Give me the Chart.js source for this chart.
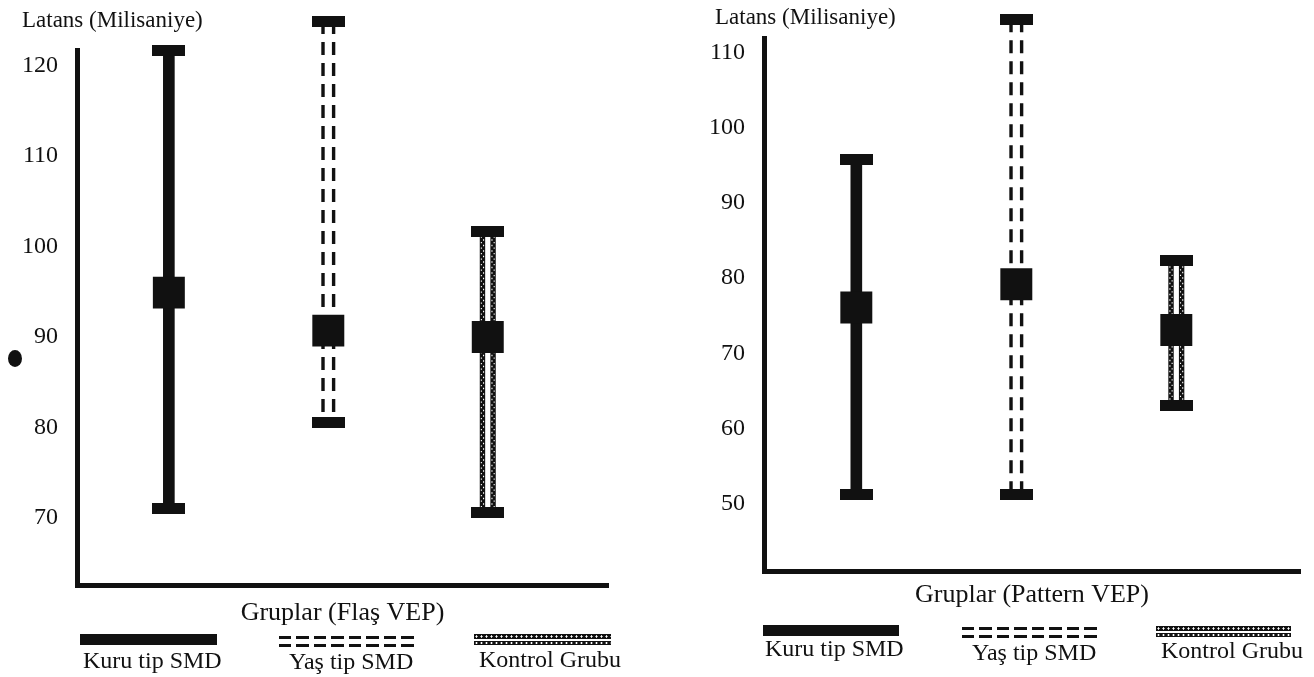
<!DOCTYPE html>
<html lang="tr">
<head>
<meta charset="utf-8">
<title>Latans - Flaş ve Pattern VEP</title>
<script src="https://cdn.jsdelivr.net/npm/chart.js@4.4.0/dist/chart.umd.min.js"></script>
<style>
  html, body { margin: 0; padding: 0; background: #fff; }
  body { width: 1314px; height: 677px; position: relative; overflow: hidden;
         font-family: "Liberation Serif", "Times New Roman", serif; color: #111; }
  canvas { position: absolute; top: 0; }
  .txt { position: absolute; white-space: nowrap; line-height: 1; }
  .ylab { font-size: 23px; }
  .leg { font-size: 24px; }
  .sw { position: absolute; }
  .solid { background: #111; }
  .row { position: absolute; left: 0; right: 0; }
  .dash { height: 3px; background: repeating-linear-gradient(90deg, #111 0 12.5px, transparent 12.5px 17.5px); }
  .chain { height: 4.5px; background-color: #111;
           background-image: radial-gradient(circle, #fff 0.8px, transparent 1.3px);
           background-size: 5px 4.5px; }
  .dot { position: absolute; left: 8px; top: 350px; width: 14px; height: 17px; border-radius: 50%; background: #111; }
</style>
</head>
<body>
<canvas id="flash" width="650" height="677" style="left:0"></canvas>
<canvas id="pattern" width="627" height="677" style="left:687px"></canvas>
<div class="dot"></div>
<script>
// groups (x positions 1..3 on a linear scale)
const groups = ["Kuru tip SMD", "Yaş tip SMD", "Kontrol Grubu"];
const groupPos = [1, 2, 3];

// Flaş VEP latency (ms): mean, lower and upper whisker
const flashMean = [94.9, 90.7, 90.0];
const flashLow = [71.1, 80.6, 70.6];
const flashHigh = [121.7, 124.9, 101.7];
const flashTicks = [70, 80, 90, 100, 110, 120];

// Pattern VEP latency (ms)
const patternMean = [76.1, 79.2, 73.1];
const patternLow = [51.3, 51.3, 63.1];
const patternHigh = [95.8, 114.4, 82.3];
const patternTicks = [50, 60, 70, 80, 90, 100, 110];

const strandStyles = ["solid", "dashed", "chain"];
const ink = "#111";
const serif = "Liberation Serif";

// end cap used as point image
const capImg = document.createElement("canvas");
capImg.width = 33;
capImg.height = 11;
const capCtx = capImg.getContext("2d");
capCtx.fillStyle = ink;
capCtx.fillRect(0, 0, 33, 11);

// draws the dashed / chain whiskers inside the range bars
const strandPlugin = {
  id: "strands",
  afterDatasetDraw(chart, args) {
    if (args.meta.type !== "bar") return;
    const ctx = chart.ctx;
    args.meta.data.forEach((bar, i) => {
      const style = strandStyles[i];
      const top = Math.min(bar.y, bar.base);
      const bottom = Math.max(bar.y, bar.base);
      ctx.save();
      if (style === "dashed") {
        ctx.strokeStyle = ink;
        ctx.lineWidth = 3.4;
        ctx.setLineDash([13, 8]);
        [-5.3, 5.3].forEach((dx) => {
          ctx.beginPath();
          ctx.moveTo(bar.x + dx, top);
          ctx.lineTo(bar.x + dx, bottom);
          ctx.stroke();
        });
      } else if (style === "chain") {
        [-5.3, 5.3].forEach((dx, k) => {
          ctx.setLineDash([]);
          ctx.strokeStyle = ink;
          ctx.lineWidth = 5.4;
          ctx.beginPath();
          ctx.moveTo(bar.x + dx, top);
          ctx.lineTo(bar.x + dx, bottom);
          ctx.stroke();
          ctx.strokeStyle = "#fff";
          ctx.lineWidth = 1.1;
          ctx.setLineDash([1.3, 4.2]);
          [-1.1, 1.1].forEach((off, j) => {
            ctx.lineDashOffset = (j + k) % 2 ? 2.7 : 0;
            ctx.beginPath();
            ctx.moveTo(bar.x + dx + off, top);
            ctx.lineTo(bar.x + dx + off, bottom);
            ctx.stroke();
          });
        });
      }
      ctx.restore();
    });
  },
};

function buildChart(id, cfg) {
  const { mean, low, high, ticks } = cfg;
  return new Chart(document.getElementById(id), {
    type: "bar",
    data: {
      datasets: [
        {
          type: "scatter",
          label: "Ortalama",
          data: groupPos.map((x, i) => ({ x, y: mean[i] })),
          pointStyle: "rect",
          pointRadius: 22.6,
          backgroundColor: ink,
          borderWidth: 0,
          clip: false,
        },
        {
          type: "scatter",
          label: "Uçlar",
          data: groupPos.flatMap((x, i) => [{ x, y: low[i] }, { x, y: high[i] }]),
          pointStyle: capImg,
          pointRadius: 40,
          clip: false,
        },
        {
          type: "bar",
          label: "Aralık",
          data: groupPos.map((x, i) => ({ x, y: [low[i], high[i]] })),
          backgroundColor: strandStyles.map((s) => (s === "solid" ? ink : "rgba(0,0,0,0)")),
          borderWidth: 0,
          barThickness: 11,
          clip: false,
        },
      ],
    },
    options: {
      responsive: false,
      animation: false,
      events: [],
      layout: {
        autoPadding: false,
        padding: { left: 0, right: cfg.padRight, top: cfg.padTop, bottom: cfg.padBottom },
      },
      plugins: { legend: { display: false }, tooltip: { enabled: false } },
      scales: {
        x: {
          type: "linear",
          min: cfg.xMin,
          max: cfg.xMax,
          offset: false,
          grid: { display: false, drawTicks: false },
          border: { display: true, width: 5, color: ink },
          ticks: { display: false },
          title: { display: true, text: cfg.title, color: ink, padding: 0, font: { family: serif, size: 26 } },
          afterFit: (s) => { s.height = cfg.xAxisHeight; },
        },
        y: {
          type: "linear",
          min: cfg.yMin,
          max: cfg.yMax,
          grid: { display: false, drawTicks: false },
          border: { display: true, width: 5, color: ink },
          ticks: { color: ink, padding: 19, font: { family: serif, size: 24 } },
          afterBuildTicks: (s) => { s.ticks = ticks.map((v) => ({ value: v })); },
          afterFit: (s) => { s.width = 77; },
        },
      },
    },
    plugins: [strandPlugin],
  });
}

buildChart("flash", {
  mean: flashMean, low: flashLow, high: flashHigh, ticks: flashTicks,
  title: "Gruplar (Flaş VEP)",
  yMin: 62.6, yMax: 121.7, xMin: 0.424, xMax: 3.754,
  padRight: 42, padTop: 50, padBottom: 48.4, xAxisHeight: 43.6,
});

buildChart("pattern", {
  mean: patternMean, low: patternLow, high: patternHigh, ticks: patternTicks,
  title: "Gruplar (Pattern VEP)",
  yMin: 41.1, yMax: 111.9, xMin: 0.423, xMax: 3.773,
  padRight: 14, padTop: 38, padBottom: 66.4, xAxisHeight: 39.6,
});

// axis labels and legends (html text)
function addText(cls, text, left, top) {
  const d = document.createElement("div");
  d.className = "txt " + cls;
  d.textContent = text;
  d.style.left = left + "px";
  d.style.top = top + "px";
  document.body.appendChild(d);
}

function addSwatch(style, left, top, width, rowTops) {
  const s = document.createElement("div");
  s.className = "sw" + (style === "solid" ? " solid" : "");
  s.style.left = left + "px";
  s.style.top = top + "px";
  s.style.width = width + "px";
  s.style.height = "11px";
  if (style !== "solid") {
    rowTops.forEach((t) => {
      const r = document.createElement("div");
      r.className = "row " + (style === "dashed" ? "dash" : "chain");
      r.style.top = t + "px";
      s.appendChild(r);
    });
  }
  document.body.appendChild(s);
}

addText("ylab", "Latans (Milisaniye)", 22, 8);
addText("ylab", "Latans (Milisaniye)", 715, 5);

const legendLayout = [
  { sw: [[80, 634, 137], [279, 634, 138], [474, 634, 137]], txt: [[83, 648], [289, 649], [479, 647]] },
  { sw: [[763, 625, 136], [962, 625, 138], [1156, 626, 135]], txt: [[765, 636], [972, 640], [1161, 638]] },
];
legendLayout.forEach((lay) => {
  groups.forEach((g, i) => {
    const [l, t, w] = lay.sw[i];
    addSwatch(strandStyles[i], l, t, w, strandStyles[i] === "dashed" ? [1.5, 9.5] : [0, 6.5]);
    addText("leg", g, lay.txt[i][0], lay.txt[i][1]);
  });
});
</script>
</body>
</html>
